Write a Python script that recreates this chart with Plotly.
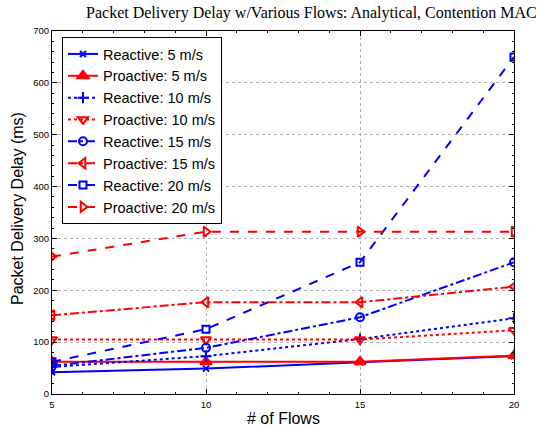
import plotly.graph_objects as go

flows = [5, 10, 15, 20]
reactive_5 = [42, 49, 61, 73]
proactive_5 = [62, 62, 62, 74]
reactive_10 = [52, 73, 106, 146]
proactive_10 = [105, 105, 105, 123]
reactive_15 = [54, 89, 148, 254]
proactive_15 = [152, 177, 177, 207]
reactive_20 = [62, 125, 254, 650]
proactive_20 = [265, 313, 313, 313]

names = ["Reactive: 5 m/s", "Proactive: 5 m/s", "Reactive: 10 m/s", "Proactive: 10 m/s",
         "Reactive: 15 m/s", "Proactive: 15 m/s", "Reactive: 20 m/s", "Proactive: 20 m/s"]
series = [reactive_5, proactive_5, reactive_10, proactive_10,
          reactive_15, proactive_15, reactive_20, proactive_20]
colors = ["#0000ff", "#ff0000"] * 4
dashes = ["solid", "solid", "dot", "dot", "dashdot", "dashdot", "dash", "dash"]
symbols = ["x-thin-open", "triangle-up", "cross-thin-open", "triangle-down-open",
           "circle-open", "triangle-left-open", "square-open", "triangle-right-open"]
sizes = [6, 10, 8, 9, 8, 9, 7, 9]

SANS = "Liberation Sans, Arial, sans-serif"

fig = go.Figure()
for n, s, c, d, m, sz in zip(names, series, colors, dashes, symbols, sizes):
    fig.add_trace(go.Scatter(
        x=flows, y=s, name=n, mode="lines+markers",
        line=dict(color=c, width=2, dash=d),
        marker=dict(symbol=m, size=sz, color=c, line=dict(color=c, width=2)),
    ))

axis_common = dict(
    showline=True, linecolor="black", linewidth=1, mirror="ticks",
    ticks="inside", ticklen=5, tickcolor="black",
    showgrid=True, gridcolor="#b0b0b0", griddash="dot", gridwidth=1,
    zeroline=False, automargin=False,
    tickfont=dict(family=SANS, size=9.5, color="black"),
)

fig.update_layout(
    width=538, height=430,
    margin=dict(l=52, r=24, t=31, b=36),
    paper_bgcolor="white", plot_bgcolor="white",
    title=dict(text="Packet Delivery Delay w/Various Flows: Analytical, Contention MAC",
               x=302 / 538, xanchor="center", xref="paper", y=1 - 12 / 430, yanchor="middle",
               font=dict(family="Liberation Serif, Times New Roman, serif", size=16, color="black")),
    xaxis=dict(range=[5, 20], tickvals=[5, 10, 15, 20], ticklabelstandoff=2, **axis_common),
    yaxis=dict(range=[0, 700], tickvals=[0, 100, 200, 300, 400, 500, 600, 700], **axis_common),
    legend=dict(x=10 / 462, y=(394 - 37) / 363, xanchor="left", yanchor="top",
                bgcolor="white", bordercolor="black", borderwidth=1,
                font=dict(family=SANS, size=14.5, color="black"),
                tracegroupgap=0, itemwidth=30),
    showlegend=True,
    annotations=[
        dict(text="# of Flows", xref="paper", yref="paper", x=0.5, y=(394 - 418) / 363,
             xanchor="center", yanchor="middle", showarrow=False,
             font=dict(family=SANS, size=16, color="black")),
        dict(text="Packet Delivery Delay (ms)", xref="paper", yref="paper",
             x=(18 - 52) / 462, y=(394 - 209) / 363, textangle=-90,
             xanchor="center", yanchor="middle", showarrow=False,
             font=dict(family=SANS, size=16, color="black")),
    ],
)
fig.update_xaxes(minor=dict(ticks="inside", ticklen=2, tickcolor="black", showgrid=False,
                            tickvals=[6, 7, 8, 9, 11, 12, 13, 14, 16, 17, 18, 19]))
fig.update_yaxes(minor=dict(ticks="inside", ticklen=2, tickcolor="black", showgrid=False, dtick=20))

fig.write_html("out.html", config={"displayModeBar": False},
               post_script="document.body.style.margin='0';document.body.style.overflow='hidden';")
